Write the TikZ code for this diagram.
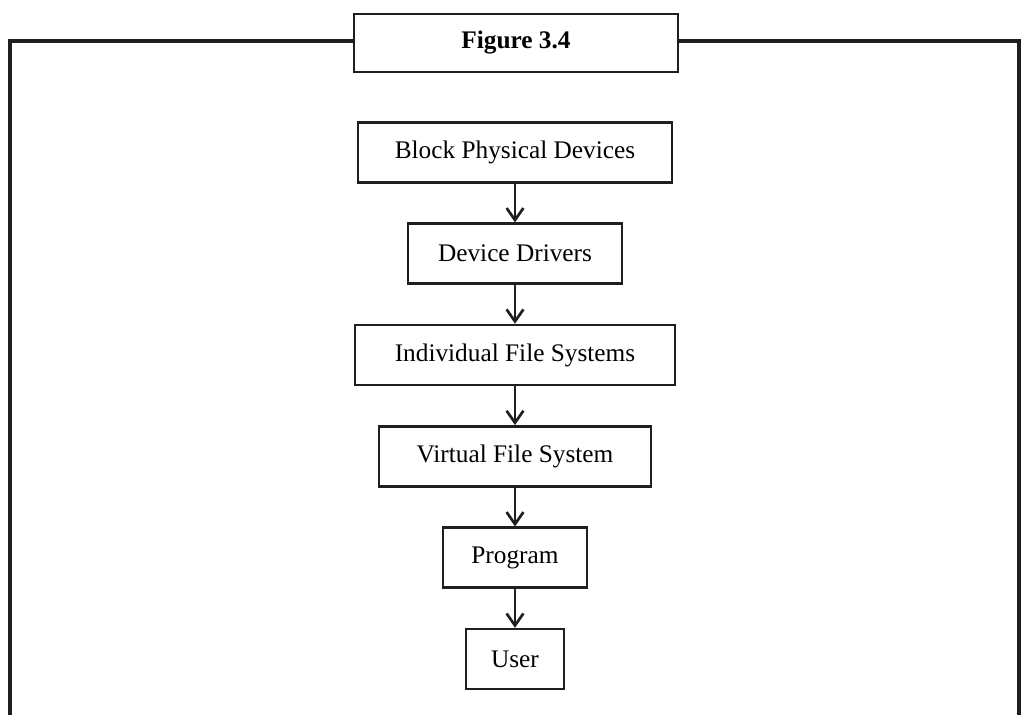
\documentclass[tikz,border=0pt]{standalone}
\usepackage{fontspec}
\setmainfont{Liberation Serif}
\usepackage{tikz}
\usetikzlibrary{arrows.meta, positioning}
\tikzset{
    box/.style={rectangle, draw=black!88, line width=1.8pt, fill=white, align=center,
        minimum height=1.5cm, inner sep=0pt, font=\fontsize{18}{21}\selectfont},
    titlebox/.style={box, minimum width=8.1cm, minimum height=1.45cm, font=\fontsize{18}{21}\selectfont\bfseries},
    frame/.style={draw=black!88, line width=2.2pt},
    arrow/.style={-{Straight Barb[length=3mm, width=4.2mm, line width=1.9pt]}, line width=1.9pt, draw=black!88},
}

\begin{document}
\begin{tikzpicture}[x=0.025cm, y=-0.025cm, node distance=0.97cm]
    \useasboundingbox (0,0) rectangle (1022,715);
    % outer frame, open at the bottom
    \coordinate (fbl) at (10,715);
    \coordinate (ftl) at (10,41);
    \coordinate (ftr) at (1019,41);
    \coordinate (fbr) at (1019,715);
    \draw[frame] (fbl) -- (ftl) -- (ftr) -- (fbr);
    \node[titlebox] (title) at (516,43) {Figure 3.4};
    % layers
    \node[box, minimum width=7.85cm] (block) at (515,152.3) {Block Physical Devices};
    \node[box, minimum width=5.35cm, below=of block] (drivers) {Device Drivers};
    \node[box, minimum width=8cm, below=of drivers] (indfs) {Individual File Systems};
    \node[box, minimum width=6.8cm, below=of indfs] (vfs) {Virtual File System};
    \node[box, minimum width=3.6cm, below=of vfs] (program) {Program};
    \node[box, minimum width=2.45cm, below=of program] (user) {User};
    \draw[arrow] (block) -- (drivers);
    \draw[arrow] (drivers) -- (indfs);
    \draw[arrow] (indfs) -- (vfs);
    \draw[arrow] (vfs) -- (program);
    \draw[arrow] (program) -- (user);
\end{tikzpicture}
\end{document}
